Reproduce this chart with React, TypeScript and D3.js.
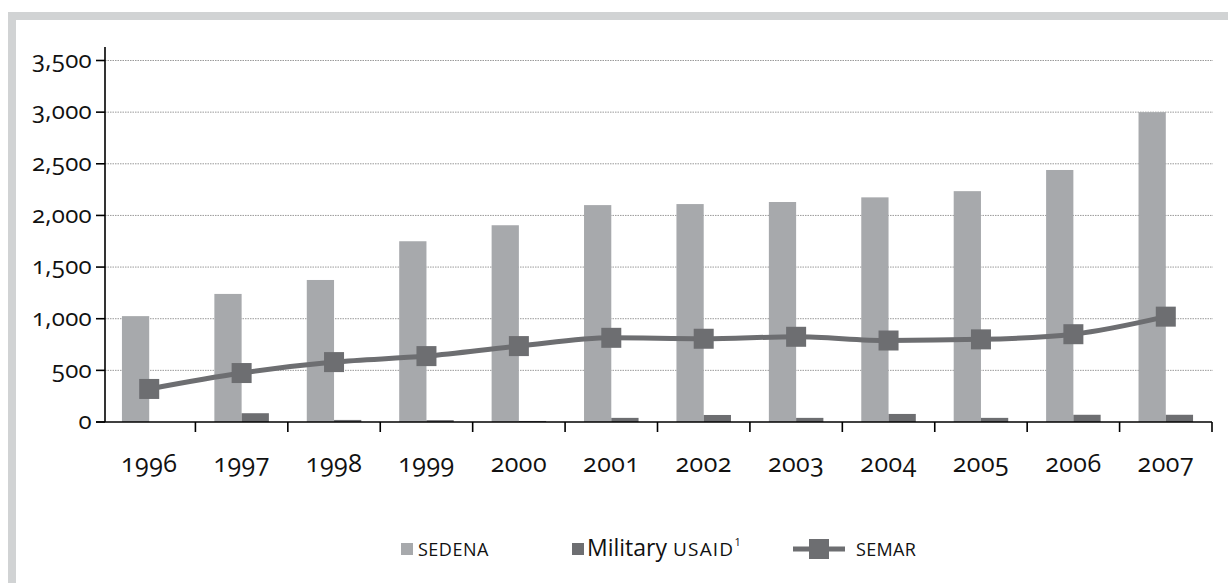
import * as d3 from 'd3';
import { useEffect, useRef } from 'react';

const years = ['1996', '1997', '1998', '1999', '2000', '2001', '2002', '2003', '2004', '2005', '2006', '2007'];
const sedena = [1025, 1240, 1375, 1750, 1905, 2100, 2110, 2130, 2175, 2235, 2440, 3000];
const usaid = [0, 85, 20, 18, 10, 40, 68, 40, 78, 40, 70, 70];
const semar = [320, 474, 580, 638, 735, 815, 806, 825, 789, 800, 850, 1020];
const yTicks = [0, 500, 1000, 1500, 2000, 2500, 3000, 3500];

const LIGHT = '#a7a9ac';
const DARK = '#6d6e71';
const FONT = '"Open Sans", "Lato", sans-serif';

export default function App() {
  const svgRef = useRef<SVGSVGElement>(null);

  useEffect(() => {
    if (!svgRef.current) return;
    const svg = d3.select(svgRef.current);
    svg.selectAll('*').remove();

    const W = 1228;
    const H = 583;
    const x0 = 105;
    const x1 = 1212;
    const yBase = 422;

    // frame
    svg.append('rect').attr('x', 8).attr('y', 12).attr('width', 8).attr('height', H - 12).attr('fill', '#d1d3d4');
    svg.append('rect').attr('x', 8).attr('y', 12).attr('width', W - 8).attr('height', 8).attr('fill', '#d1d3d4');

    const x = d3.scaleBand<string>().domain(years).range([103, x1]).padding(0);
    const y = d3.scaleLinear().domain([0, 3500]).range([yBase, 60.5]);
    const barW = x.step() * 0.295;
    const cx = (d: string) => (x(d) ?? 0) + x.bandwidth() / 2;

    // gridlines
    svg
      .append('g')
      .selectAll('line')
      .data(yTicks.filter((t) => t > 0))
      .join('line')
      .attr('x1', x0)
      .attr('x2', x1 + 1)
      .attr('y1', (d) => y(d))
      .attr('y2', (d) => y(d))
      .attr('stroke', '#9a9a9a')
      .attr('stroke-width', 1)
      .attr('stroke-dasharray', '1.5,1');

    // bars
    svg
      .append('g')
      .selectAll('rect')
      .data(years)
      .join('rect')
      .attr('x', (d) => cx(d) - barW)
      .attr('y', (_, i) => y(sedena[i]))
      .attr('width', barW)
      .attr('height', (_, i) => yBase - y(sedena[i]))
      .attr('fill', LIGHT);

    svg
      .append('g')
      .selectAll('rect')
      .data(years)
      .join('rect')
      .attr('x', (d) => cx(d))
      .attr('y', (_, i) => y(usaid[i]))
      .attr('width', barW)
      .attr('height', (_, i) => yBase - y(usaid[i]))
      .attr('fill', DARK);

    // axes
    const axisG = svg.append('g').attr('stroke', '#000').attr('stroke-width', 1.6);
    axisG.append('line').attr('x1', x0).attr('x2', x0).attr('y1', 47).attr('y2', yBase);
    axisG.append('line').attr('x1', 96).attr('x2', x1).attr('y1', yBase).attr('y2', yBase);
    axisG
      .selectAll('line.yt')
      .data(yTicks)
      .join('line')
      .attr('class', 'yt')
      .attr('x1', 96)
      .attr('x2', x0)
      .attr('y1', (d) => y(d))
      .attr('y2', (d) => y(d));
    axisG
      .selectAll('line.xt')
      .data(years)
      .join('line')
      .attr('class', 'xt')
      .attr('x1', (d) => (x(d) ?? 0) + x.step())
      .attr('x2', (d) => (x(d) ?? 0) + x.step())
      .attr('y1', yBase)
      .attr('y2', yBase + 10);

    svg
      .append('g')
      .selectAll('text')
      .data(yTicks)
      .join('text')
      .attr('x', 92)
      .attr('y', (d) => y(d))
      .attr('dy', '0.3em')
      .attr('text-anchor', 'end')
      .style('font-family', FONT)
      .style('font-size', '24px')
      .style('letter-spacing', '0.3px')
      .style('font-variant-numeric', 'oldstyle-nums')
      .attr('fill', '#111')
      .text((d) => d3.format(',')(d));

    svg
      .append('g')
      .selectAll('text')
      .data(years)
      .join('text')
      .attr('x', (d) => cx(d))
      .attr('y', 472)
      .attr('text-anchor', 'middle')
      .style('font-family', FONT)
      .style('font-size', '25px')
      .style('letter-spacing', '0.5px')
      .style('font-variant-numeric', 'oldstyle-nums')
      .attr('fill', '#111')
      .text((d) => d);

    // SEMAR line
    const line = d3
      .line<number>()
      .x((_, i) => cx(years[i]))
      .y((d) => y(d))
      .curve(d3.curveMonotoneX);
    svg
      .append('path')
      .datum(semar)
      .attr('d', line)
      .attr('fill', 'none')
      .attr('stroke', DARK)
      .attr('stroke-width', 5);
    const mk = 20;
    svg
      .append('g')
      .selectAll('rect')
      .data(semar)
      .join('rect')
      .attr('x', (_, i) => cx(years[i]) - mk / 2)
      .attr('y', (d) => y(d) - mk / 2)
      .attr('width', mk)
      .attr('height', mk)
      .attr('fill', DARK);

    // legend
    const lg = svg.append('g').style('font-family', FONT).attr('fill', '#111');
    const ly = 549;
    lg.append('rect').attr('x', 401).attr('y', ly - 6).attr('width', 12).attr('height', 12).attr('fill', LIGHT);
    lg.append('text').attr('x', 418).attr('y', ly + 7).style('font-size', '18px').style('letter-spacing', '0.5px').text('SEDENA');
    lg.append('rect').attr('x', 572).attr('y', ly - 6).attr('width', 12).attr('height', 12).attr('fill', DARK);
    const t2 = lg.append('text').attr('x', 587).attr('y', ly + 7);
    t2.append('tspan').style('font-size', '23px').text('Military ');
    t2.append('tspan').style('font-size', '19px').style('letter-spacing', '1.2px').text('USAID');
    t2.append('tspan').style('font-size', '11px').attr('dy', -10).text('1');
    lg.append('line').attr('x1', 793).attr('x2', 845).attr('y1', ly).attr('y2', ly).attr('stroke', DARK).attr('stroke-width', 5);
    lg.append('rect').attr('x', 809).attr('y', ly - 10).attr('width', 20).attr('height', 20).attr('fill', DARK);
    lg.append('text').attr('x', 856).attr('y', ly + 7).style('font-size', '18px').style('letter-spacing', '0.3px').text('SEMAR');
  }, []);

  return (
    <div style={{ position: 'absolute', left: 0, top: 0 }}>
      <svg ref={svgRef} width={1228} height={583} style={{ display: 'block', background: '#fff' }} />
    </div>
  );
}
